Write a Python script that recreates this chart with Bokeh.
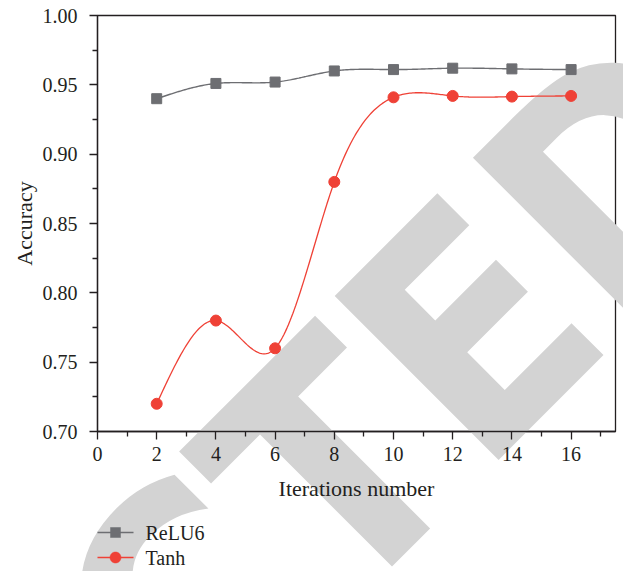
import numpy as np
from bokeh.plotting import figure
from bokeh.models import Range1d, FixedTicker, ColumnDataSource
from bokeh.core.properties import value
from bokeh.embed import file_html
from bokeh.resources import INLINE

# ---- data ----
iterations = [2, 4, 6, 8, 10, 12, 14, 16]
relu6 = [0.940, 0.951, 0.952, 0.960, 0.961, 0.962, 0.9615, 0.961]
tanh = [0.720, 0.780, 0.760, 0.880, 0.941, 0.942, 0.9415, 0.942]
series_names = ["ReLU6", "Tanh"]
x_ticks = [0, 2, 4, 6, 8, 10, 12, 14, 16]
y_ticks = [0.70, 0.75, 0.80, 0.85, 0.90, 0.95, 1.00]
y_tick_labels = ["0.70", "0.75", "0.80", "0.85", "0.90", "0.95", "1.00"]
x_title = "Iterations number"
y_title = "Accuracy"
watermark = "RETRACTED"

TXT = "#231f20"
GRAY = "#6d6e72"
RED = "#ef4136"
SERIF = "Liberation Serif"

# ---- layout (pixels) ----
W, H = 623, 571
FL, FT, FR, FB = 97, 15, 8, 140          # frame borders
X0, X1, Y0, Y1 = 0, 17.5, 0.70, 1.00
FW, FH = W - FL - FR, H - FT - FB


def px_x(px):   # canvas px -> data x
    return X0 + (px - FL) / FW * (X1 - X0)


def px_y(py):   # canvas px -> data y
    return Y1 - (py - FT) / FH * (Y1 - Y0)


def natural_spline(xs, ys, per_seg=40):
    xs = np.asarray(xs, float)
    ys = np.asarray(ys, float)
    n = len(xs)
    h = np.diff(xs)
    A = np.zeros((n, n))
    b = np.zeros(n)
    A[0, 0] = 1
    A[-1, -1] = 1
    for i in range(1, n - 1):
        A[i, i - 1] = h[i - 1]
        A[i, i] = 2 * (h[i - 1] + h[i])
        A[i, i + 1] = h[i]
        b[i] = 6 * ((ys[i + 1] - ys[i]) / h[i] - (ys[i] - ys[i - 1]) / h[i - 1])
    M = np.linalg.solve(A, b)
    out_x, out_y = [], []
    for i in range(n - 1):
        t = np.linspace(xs[i], xs[i + 1], per_seg, endpoint=(i == n - 2))
        a = xs[i + 1] - t
        c = t - xs[i]
        y = (M[i] * a ** 3 + M[i + 1] * c ** 3) / (6 * h[i]) \
            + (ys[i] / h[i] - M[i] * h[i] / 6) * a \
            + (ys[i + 1] / h[i] - M[i + 1] * h[i] / 6) * c
        out_x.extend(t)
        out_y.extend(y)
    return out_x, out_y


p = figure(width=W, height=H,
           min_border_left=FL, min_border_right=FR, min_border_top=FT,
           min_border_bottom=FB,
           x_range=Range1d(X0, X1), y_range=Range1d(Y0, Y1),
           output_backend="svg", toolbar_location=None)

p.background_fill_color = None
p.border_fill_color = "white"
p.xgrid.visible = False
p.ygrid.visible = False
p.outline_line_color = TXT
p.outline_line_width = 1.3
p.outline_line_alpha = 1

# watermark: one text glyph, beneath the chart, not clipped to the frame
wm_src = ColumnDataSource(dict(x=[px_x(708)], y=[px_y(94)], t=[watermark]))
p.text(x="x", y="y", text="t", source=wm_src, angle=np.pi / 4,
       text_align="right", text_baseline="alphabetic",
       text_font=value("DejaVu Sans Condensed"), text_font_style="bold",
       text_font_size="318px", text_color="#d3d3d3", level="annotation")

# series
rx, ry = natural_spline(iterations, relu6)
tx, ty = natural_spline(iterations, tanh)
p.line(rx, ry, line_color=GRAY, line_width=1.4, level="overlay")
p.scatter(iterations, relu6, marker="square", size=10,
          fill_color=GRAY, line_color=GRAY, level="overlay")
p.line(tx, ty, line_color=RED, line_width=1.3, level="overlay")
p.scatter(iterations, tanh, marker="circle", size=11,
          fill_color=RED, line_color=RED, level="overlay")

# legend below the plot (line + marker + label per series)
leg_rows = [532, 557]
leg_colors = [GRAY, RED]
leg_shapes = ["square", "circle"]
for name, row, col, shape in zip(series_names, leg_rows, leg_colors, leg_shapes):
    yy = px_y(row)
    p.line([px_x(97), px_x(133)], [yy, yy], line_color=col, line_width=1.3,
           level="overlay")
    if shape == "square":
        sx = [115 - 5, 115 + 5, 115 + 5, 115 - 5]
        sy = [row - 5, row - 5, row + 5, row + 5]
    else:
        ang = np.linspace(0, 2 * np.pi, 40, endpoint=False)
        sx = list(115 + 5.5 * np.cos(ang))
        sy = list(row + 5.5 * np.sin(ang))
    p.patch([px_x(v) for v in sx], [px_y(v) for v in sy], fill_color=col,
            line_color=col, line_width=0.5, level="overlay")
    p.text([px_x(145)], [yy], text=[name], text_baseline="middle",
           text_align="left", text_font=value(SERIF),
           text_font_size="20px", text_color=TXT, level="overlay")

# axes
for ax in (p.xaxis[0], p.yaxis[0]):
    ax.level = "overlay"
    ax.axis_line_color = TXT
    ax.axis_line_width = 1.3
    ax.major_tick_line_color = TXT
    ax.minor_tick_line_color = TXT
    ax.major_tick_line_width = 1.3
    ax.minor_tick_line_width = 1.3
    ax.major_tick_out = 8
    ax.major_tick_in = 0
    ax.minor_tick_out = 5
    ax.minor_tick_in = 0
    ax.major_label_text_font = SERIF
    ax.major_label_text_font_size = "20px"
    ax.major_label_text_color = TXT
    ax.axis_label_text_font = SERIF
    ax.axis_label_text_font_size = "22px"
    ax.axis_label_text_font_style = "normal"
    ax.axis_label_text_color = TXT

x_minor = [t + 1 for t in x_ticks]
p.xaxis.ticker = FixedTicker(ticks=x_ticks, minor_ticks=x_minor)
y_minor = [round(t + 0.025, 3) for t in y_ticks[:-1]]
p.yaxis.ticker = FixedTicker(ticks=y_ticks, minor_ticks=y_minor)
p.yaxis.major_label_overrides = {t: s for t, s in zip(y_ticks, y_tick_labels)}
p.xaxis.major_label_standoff = 7
p.yaxis.major_label_standoff = 12
p.xaxis.axis_label = x_title
p.yaxis.axis_label = y_title
p.xaxis.axis_label_standoff = 12
p.yaxis.axis_label_standoff = 3

open("out.html", "w").write(file_html(p, INLINE))
